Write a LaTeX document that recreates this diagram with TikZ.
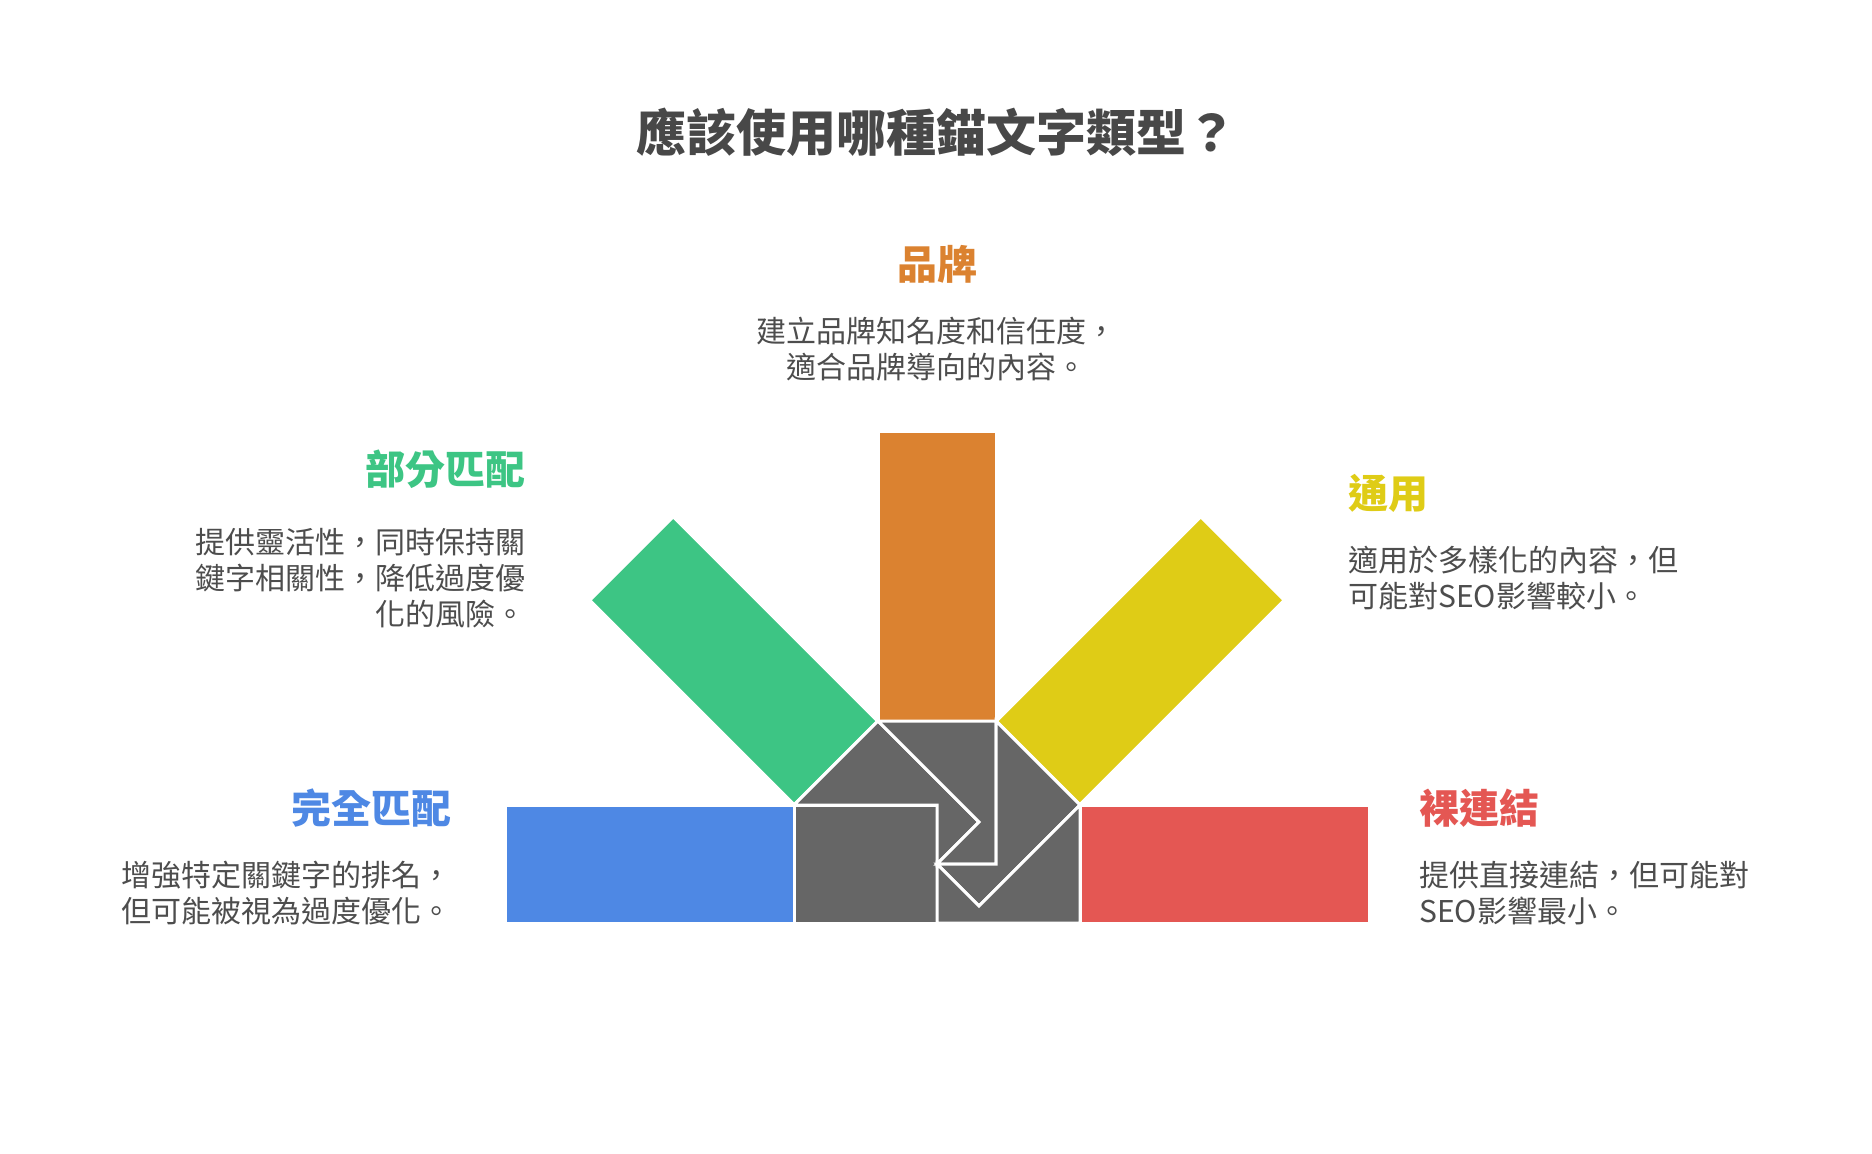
\documentclass[tikz,border=0pt]{standalone}
\usepackage{fontspec}
\setmainfont{Noto Sans CJK TC}
\usepackage{tikz}
\definecolor{brandorange}{HTML}{DB8230}
\definecolor{partgreen}{HTML}{3DC584}
\definecolor{genyellow}{HTML}{DFCC16}
\definecolor{exactblue}{HTML}{4E88E4}
\definecolor{nakedred}{HTML}{E45753}
\definecolor{hubgray}{HTML}{666666}
\definecolor{titlegray}{HTML}{484848}
\definecolor{textgray}{HTML}{4D4D4D}
\tikzstyle{piece}=[draw=white,line width=1.5pt,line join=miter]
\tikzstyle{heading}=[inner sep=0pt,font=\fontsize{20}{24}\selectfont\bfseries]
\tikzstyle{desc}=[inner sep=0pt,text=textgray,font=\fontsize{15}{18}\selectfont]

\begin{document}
\begin{tikzpicture}[x=0.5pt,y=-0.5pt]
    \useasboundingbox (0,0) rectangle (1872,1154);
    \node[inner sep=0pt,text=titlegray,font=\fontsize{25}{30}\selectfont\bfseries]
        (title) at (936,132) {應該使用哪種錨文字類型？};
    % bars round the hub
    \foreach \ang/\col in {180/exactblue, 135/partgreen, 90/brandorange,
    45/genyellow, 0/nakedred}
        \fill[piece,fill=\col,shift={(937,864)},rotate=\ang]
            (143,-59) -- (432,-59) -- (432,59) -- (143,59) -- cycle;
    % hub pieces
    \fill[piece,fill=hubgray] (794,805) -- (937,805) -- (937,923) -- (794,923) -- cycle;
    \fill[piece,fill=hubgray] (794,805) -- (878,721) -- (979,822) -- (937,864) -- (937,805) -- cycle;
    \fill[piece,fill=hubgray] (878,721) -- (996,721) -- (996,864) -- (937,864) -- (979,822) -- cycle;
    \fill[piece,fill=hubgray] (996,721) -- (1080,805) -- (979,906) -- (937,864) -- (996,864) -- cycle;
    \fill[piece,fill=hubgray] (1080,805) -- (1080,923) -- (937,923) -- (937,864) -- (979,906) -- cycle;
    % headings
    \foreach \pos/\name/\col/\anc/\txt in {{(937,264)/brand/brandorange/center/品牌},
    {(526,469)/partial/partgreen/east/部分匹配}, {(452,808)/exact/exactblue/east/完全匹配},
    {(1348,493)/generic/genyellow/west/通用}, {(1419,808)/naked/nakedred/west/裸連結}}
        \node[heading,text=\col,anchor=\anc] (\name) at \pos {\txt};
    % descriptions
    \node[desc,align=center] (brandtxt) at (936,349)
        {建立品牌知名度和信任度，\\適合品牌導向的內容。};
    \node[desc,align=right,anchor=east] (partialtxt) at (526,578)
        {提供靈活性，同時保持關\\鍵字相關性，降低過度優\\化的風險。};
    \node[desc,align=right,anchor=east] (exacttxt) at (452,893)
        {增強特定關鍵字的排名，\\但可能被視為過度優化。};
    \node[desc,align=left,anchor=west] (generictxt) at (1348,578)
        {適用於多樣化的內容，但\\可能對SEO影響較小。};
    \node[desc,align=left,anchor=west] (nakedtxt) at (1419,893)
        {提供直接連結，但可能對\\SEO影響最小。};
\end{tikzpicture}
\end{document}
